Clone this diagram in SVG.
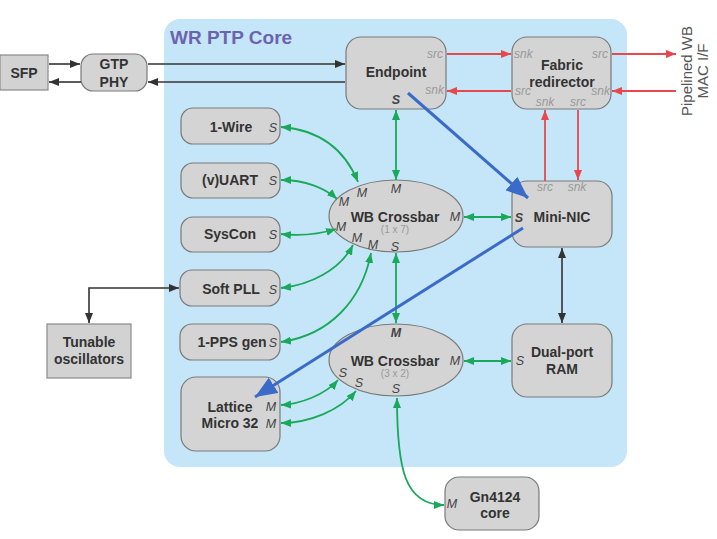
<svg xmlns="http://www.w3.org/2000/svg" width="717" height="539" viewBox="0 0 717 539">
<style>
text{font-family:"Liberation Sans",Arial,sans-serif}
.box{fill:#d4d4d4;stroke:#7a7a7a;stroke-width:1.2}
.sq{fill:#d2d2d2;stroke:#8a8a8a;stroke-width:1.2}
.lbl{font-size:14px;font-weight:bold;fill:#333;text-anchor:middle}
.port{font-size:12px;font-style:italic;fill:#999}
.ms{font-size:12.5px;font-style:italic;fill:#444;text-anchor:middle}
.sub{font-size:10px;fill:#999;text-anchor:middle}
.g{fill:none;stroke:#1aa85a;stroke-width:1.8;marker-start:url(#ag);marker-end:url(#ag)}
.r{fill:none;stroke:#e8474c;stroke-width:1.8;marker-end:url(#ar)}
.k{fill:none;stroke:#333;stroke-width:1.6;marker-end:url(#ak)}
.b{fill:none;stroke:#3a6bc8;stroke-width:3;marker-end:url(#ab)}
</style>
<defs>
<marker id="ag" viewBox="0 0 10 8" refX="10" refY="4" markerWidth="10" markerHeight="8" markerUnits="userSpaceOnUse" orient="auto-start-reverse"><path d="M0,0 L10,4 L0,8 z" fill="#1aa85a"/></marker>
<marker id="ar" viewBox="0 0 10 8" refX="10" refY="4" markerWidth="10" markerHeight="8" markerUnits="userSpaceOnUse" orient="auto-start-reverse"><path d="M0,0 L10,4 L0,8 z" fill="#e8474c"/></marker>
<marker id="ak" viewBox="0 0 10 8" refX="10" refY="4" markerWidth="10" markerHeight="8" markerUnits="userSpaceOnUse" orient="auto-start-reverse"><path d="M0,0 L10,4 L0,8 z" fill="#333"/></marker>
<marker id="ab" viewBox="0 0 22 18" refX="22" refY="9" markerWidth="22" markerHeight="18" markerUnits="userSpaceOnUse" orient="auto"><path d="M0,0 L22,9 L0,18 z" fill="#3a6bc8"/></marker>
</defs>
<rect width="717" height="539" fill="#fff"/>
<g id="core">
<rect x="164" y="19" width="463" height="448" rx="16" fill="#c5e6f9"/>
<text x="170" y="44" font-size="19" font-weight="bold" fill="#6c63b0">WR PTP Core</text>
</g>
<g id="sfp"><rect class="sq" x="0" y="55" width="48" height="35"/><text class="lbl" x="24" y="78">SFP</text></g>
<g id="gtp"><rect class="box" x="81" y="54" width="66" height="37" rx="12"/><text class="lbl" x="114" y="69">GTP</text><text class="lbl" x="114" y="87">PHY</text></g>
<g id="endpoint"><rect class="box" x="346" y="37" width="100" height="72" rx="15"/><text class="lbl" x="396" y="77">Endpoint</text><text class="port" x="443" y="58" text-anchor="end">src</text><text class="port" x="444" y="94" text-anchor="end">snk</text><text class="ms" x="396" y="104" font-weight="bold">S</text></g>
<g id="fabric"><rect class="box" x="512" y="37" width="99" height="72" rx="15"/><text class="lbl" x="562" y="70">Fabric</text><text class="lbl" x="562" y="87">redirector</text><text class="port" x="514" y="58">snk</text><text class="port" x="608" y="58" text-anchor="end">src</text><text class="port" x="515" y="95">src</text><text class="port" x="610" y="95" text-anchor="end">snk</text><text class="port" x="545" y="106" text-anchor="middle">snk</text><text class="port" x="578" y="106" text-anchor="middle">src</text></g>
<g id="pipelined"><text transform="translate(692,71) rotate(-90)" font-size="15" fill="#555" text-anchor="middle">Pipelined WB</text><text transform="translate(708,71) rotate(-90)" font-size="15" fill="#555" text-anchor="middle">MAC I/F</text></g>
<g id="mininic"><rect class="box" x="512" y="181" width="100" height="66" rx="15"/><text class="port" x="545" y="191" text-anchor="middle">src</text><text class="port" x="577" y="191" text-anchor="middle">snk</text><text class="ms" x="519" y="222" font-weight="bold">S</text><text class="lbl" x="562" y="222">Mini-NIC</text></g>
<g id="ram"><rect class="box" x="512" y="324" width="100" height="73" rx="15"/><text class="lbl" x="562" y="357">Dual-port</text><text class="lbl" x="562" y="374">RAM</text><text class="ms" x="520" y="365">S</text></g>
<g id="xbar1"><ellipse class="box" cx="396" cy="216" rx="67" ry="36"/><text class="lbl" x="395" y="222">WB Crossbar</text><text class="sub" x="395" y="233">(1 x 7)</text>
<text class="ms" x="396" y="193">M</text><text class="ms" x="362" y="197">M</text><text class="ms" x="344" y="206">M</text><text class="ms" x="341" y="231">M</text><text class="ms" x="357" y="242">M</text><text class="ms" x="373" y="249">M</text><text class="ms" x="395" y="251">S</text><text class="ms" x="455" y="221">M</text></g>
<g id="xbar2"><ellipse class="box" cx="396" cy="360" rx="67" ry="36"/><text class="lbl" x="395" y="366">WB Crossbar</text><text class="sub" x="395" y="377">(3 x 2)</text>
<text class="ms" x="396" y="337" font-weight="bold">M</text><text class="ms" x="455" y="365">M</text><text class="ms" x="343" y="377">S</text><text class="ms" x="359" y="387">S</text><text class="ms" x="396" y="393">S</text></g>
<g id="onewire"><rect class="box" x="181" y="108" width="99" height="36" rx="12"/><text class="lbl" x="231" y="132">1-Wire</text><text class="ms" x="273" y="132">S</text></g>
<g id="uart"><rect class="box" x="181" y="163" width="99" height="35" rx="12"/><text class="lbl" x="230" y="185">(v)UART</text><text class="ms" x="273" y="185">S</text></g>
<g id="syscon"><rect class="box" x="181" y="217" width="99" height="35" rx="12"/><text class="lbl" x="230" y="239">SysCon</text><text class="ms" x="273" y="239">S</text></g>
<g id="softpll"><rect class="box" x="180" y="270" width="100" height="36" rx="12"/><text class="lbl" x="231" y="294">Soft PLL</text><text class="ms" x="273" y="294">S</text></g>
<g id="pps"><rect class="box" x="180" y="324" width="100" height="36" rx="12"/><text class="lbl" x="232" y="347">1-PPS gen</text><text class="ms" x="273" y="347">S</text></g>
<g id="lattice"><rect class="box" x="181" y="377" width="99" height="74" rx="15"/><text class="lbl" x="230" y="412">Lattice</text><text class="lbl" x="230" y="428">Micro 32</text><text class="ms" x="271" y="411">M</text><text class="ms" x="271" y="428">M</text></g>
<g id="tunable"><rect class="sq" x="47" y="324" width="84" height="54"/><text class="lbl" x="89" y="347">Tunable</text><text class="lbl" x="89" y="364">oscillators</text></g>
<g id="gn4124"><rect class="box" x="445" y="477" width="94" height="53" rx="14"/><text class="lbl" x="495" y="502">Gn4124</text><text class="lbl" x="495" y="518">core</text><text class="ms" x="452" y="508">M</text></g>
<g id="connectors">
<path class="k" d="M49,64 L80,64"/>
<path class="k" d="M81,82 L49,82"/>
<path class="k" d="M148,64 L345,64"/>
<path class="k" d="M345,82 L148,82"/>
<path class="k" d="M562,248 L562,323" style="marker-start:url(#ak)"/>
<path class="k" d="M179,288 L89,288 L89,323" style="marker-start:url(#ak)"/>
<path class="r" d="M447,54 L511,54"/>
<path class="r" d="M511,91 L447,91"/>
<path class="r" d="M612,54 L676,54"/>
<path class="r" d="M676,91 L612,91"/>
<path class="r" d="M545,181 L545,110"/>
<path class="r" d="M578,110 L578,180"/>
<path class="g" d="M396,110 L396,180"/>
<path class="g" d="M396,253 L396,323"/>
<path class="g" d="M464,217 L511,217"/>
<path class="g" d="M464,361 L511,361"/>
<path class="g" d="M281,127 C320,130 345,150 358,182"/>
<path class="g" d="M281,180 C305,180 325,188 337,199"/>
<path class="g" d="M281,234 C300,236 320,234 336,229"/>
<path class="g" d="M281,288 C310,285 340,270 353,245"/>
<path class="g" d="M281,342 C330,335 362,300 371,253"/>
<path class="g" d="M281,405 C300,404 325,395 338,380"/>
<path class="g" d="M281,423 C310,423 340,410 356,391"/>
<path class="g" d="M397,398 C397,470 405,505 444,505"/>
<path class="b" d="M408,93 L528,198"/>
<path class="b" d="M523,228 L255,397"/>
</g>
</svg>
